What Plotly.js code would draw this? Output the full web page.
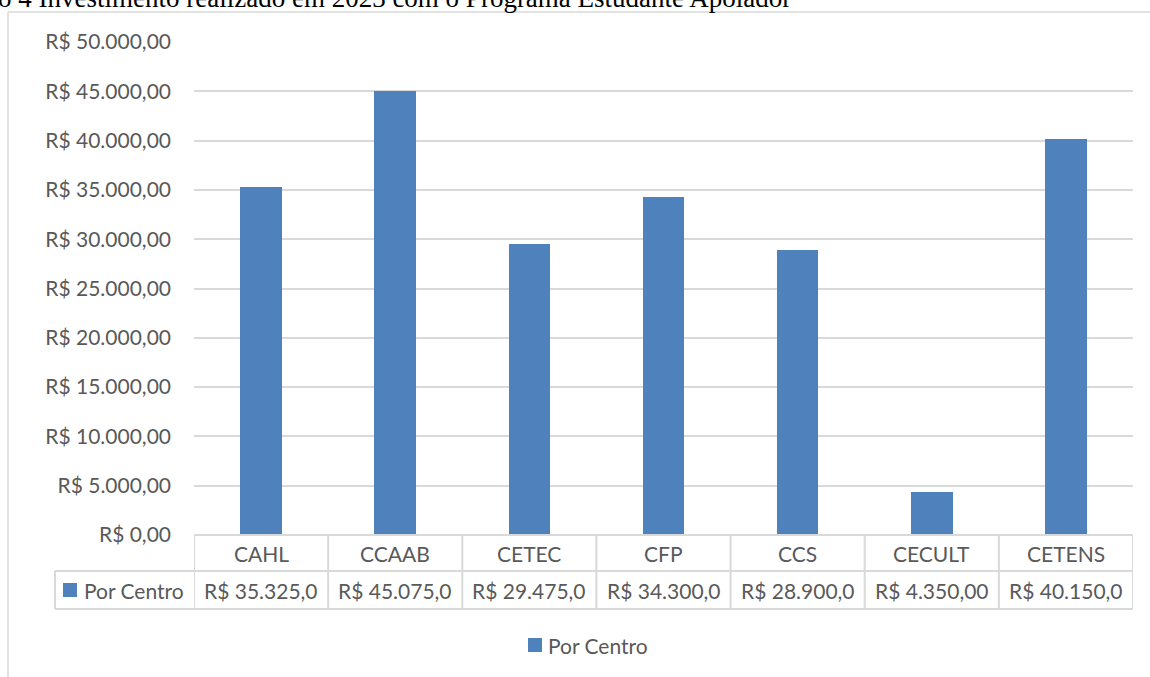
<!DOCTYPE html>
<html>
<head>
<meta charset="utf-8">
<script src="https://cdn.plot.ly/plotly-3.0.1.min.js"></script>
<style>html,body{margin:0;padding:0;background:#fff;}#chart{width:1150px;height:677px;}</style>
</head>
<body>
<div id="chart"></div>
<script>
const titleText = "o 4 Investimento realizado em 2023 com o Programa Estudante Apoiador";
const categories = ["CAHL", "CCAAB", "CETEC", "CFP", "CCS", "CECULT", "CETENS"];
const seriesName = "Por Centro";
const values = [35325, 45075, 29475, 34300, 28900, 4350, 40150];
const yTickValues = [0, 5000, 10000, 15000, 20000, 25000, 30000, 35000, 40000, 45000, 50000];

function brl(v) {
  const parts = v.toFixed(2).split(".");
  const intPart = parts[0].replace(/\B(?=(\d{3})+(?!\d))/g, ".");
  return "R$ " + intPart + "," + parts[1];
}

const W = 1150, H = 677;
const L = 194, R = 1133, T = 42, B = 535;
const pw = R - L, ph = B - T;
const px = x => (x - L) / pw;
const py = y => (B - y) / ph;

const FONT = "Lato, Carlito, 'Open Sans', sans-serif";
const TXT = "#595959";
const GRID = "#D9D9D9";
const BLUE = "#4F81BD";

const shapes = [];
const annotations = [];

// chart border (top and left)
shapes.push({type: "line", xref: "paper", yref: "paper", x0: px(8), x1: px(1152), y0: py(12), y1: py(12), line: {color: GRID, width: 1.5}});
shapes.push({type: "line", xref: "paper", yref: "paper", x0: px(8), x1: px(8), y0: py(12), y1: py(680), line: {color: GRID, width: 1.5}});

// data table lines
const rowTop = 535, rowMid = 571, rowBot = 609, tabLeft = 55;
shapes.push({type: "line", xref: "paper", yref: "paper", x0: px(L), x1: px(R), y0: py(rowTop), y1: py(rowTop), line: {color: GRID, width: 2}});
shapes.push({type: "line", xref: "paper", yref: "paper", x0: px(tabLeft), x1: px(R), y0: py(rowMid), y1: py(rowMid), line: {color: GRID, width: 2}});
shapes.push({type: "line", xref: "paper", yref: "paper", x0: px(tabLeft), x1: px(R), y0: py(rowBot), y1: py(rowBot), line: {color: GRID, width: 2}});
shapes.push({type: "line", xref: "paper", yref: "paper", x0: px(tabLeft), x1: px(tabLeft), y0: py(rowMid), y1: py(rowBot), line: {color: GRID, width: 2}});
for (let i = 0; i <= categories.length; i++) {
  shapes.push({type: "line", xref: "x", yref: "paper", x0: i - 0.5, x1: i - 0.5, y0: py(rowTop), y1: py(rowBot), line: {color: GRID, width: 2}});
}
// legend key in table
shapes.push({type: "rect", xref: "paper", yref: "paper", x0: px(63), x1: px(77), y0: py(597), y1: py(583), fillcolor: BLUE, line: {width: 0}});
annotations.push({xref: "paper", yref: "paper", x: px(82), y: py(590), xanchor: "left", yanchor: "middle", text: seriesName, showarrow: false, font: {family: FONT, size: 21, color: TXT}});

// category labels row and values row
categories.forEach((c, i) => {
  annotations.push({xref: "x", yref: "paper", x: i, y: py(553), xanchor: "center", yanchor: "middle", text: c, showarrow: false, font: {family: FONT, size: 21, color: TXT}});
  annotations.push({xref: "x", yref: "paper", x: i, y: py(590), xanchor: "center", yanchor: "middle", text: brl(values[i]).slice(0, 11), showarrow: false, font: {family: FONT, size: 21, color: TXT}});
});

// bottom legend (drawn manually to match position)
shapes.push({type: "rect", xref: "paper", yref: "paper", x0: px(528), x1: px(542), y0: py(652), y1: py(638), fillcolor: BLUE, line: {width: 0}});
annotations.push({xref: "paper", yref: "paper", x: px(546), y: py(645), xanchor: "left", yanchor: "middle", text: seriesName, showarrow: false, font: {family: FONT, size: 21, color: TXT}});

// title (cut off at top, as in the source)
annotations.push({xref: "paper", yref: "paper", x: px(-4), y: py(15), xanchor: "left", yanchor: "bottom", text: titleText, showarrow: false, font: {family: "'Liberation Serif', 'Times New Roman', serif", size: 27, color: "#000"}});

const data = [{
  type: "bar",
  x: categories,
  y: values,
  name: seriesName,
  marker: {color: BLUE},
  width: 0.31,
  hoverinfo: "none"
}];

const layout = {
  width: W, height: H,
  margin: {l: L, r: W - R, t: T, b: H - B, pad: 0},
  paper_bgcolor: "#fff",
  plot_bgcolor: "#fff",
  showlegend: false,
  xaxis: {type: "category", showticklabels: false, showgrid: false, zeroline: false, showline: false, ticks: "", range: [-0.5, categories.length - 0.5]},
  yaxis: {range: [0, 50000], tickvals: yTickValues, ticktext: yTickValues.map(brl), showgrid: true, gridcolor: GRID, gridwidth: 2, zeroline: false, showline: false, ticks: "", ticklabelstandoff: 22, tickfont: {family: FONT, size: 21, color: TXT}},
  shapes: shapes,
  annotations: annotations,
  bargap: 0
};

Plotly.newPlot("chart", data, layout, {displayModeBar: false, staticPlot: true});
</script>
</body>
</html>
